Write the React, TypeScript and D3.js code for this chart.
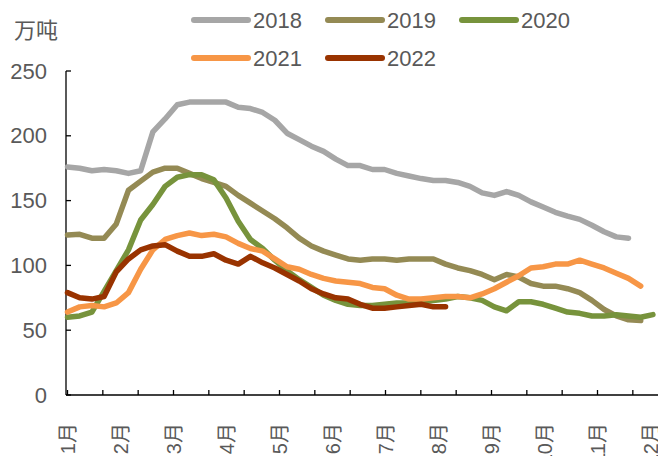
import React from "react";
import * as d3 from "d3";

const monthLabels = ["1月","2月","3月","4月","5月","6月","7月","8月","9月","10月","11月","12月"];
const yTicks = [0, 50, 100, 150, 200, 250];
const years = ["2018", "2019", "2020", "2021", "2022"];
const colors = ["#A6A6A6", "#948A54", "#77933C", "#F79646", "#993300"];

const s2018 = [176,175,173,174,173,171,173,203,213,224,226,226,226,226,222,221,218,212,202,197,192,188,182,177,177,174,174,171,169,167,165.5,165.5,164,161,156,154,157,154,149,145,141,138,135.5,131,126,122,121];
const s2019 = [123.5,124,121,121,132,158,165,172,175,175,171,167,164,161,154,148,142,136,129,121,115,111,108,105,104,105,105,104,105,105,105,101,98,96,93,89,93,91,86,84,84,82,79,73,66,61,58,57.5];
const s2020 = [60,61,64,80,96,112,135,147,161,168,170,170,166,152,134,120,113,104,96,89,83,77,73,70,69,69,70,71,71,72,73,74,76,75,73,68,65,72,72,70,67,64,63,61,61,62,61,60,62];
const s2021 = [64,68,69,68,71,79,97,112,120,123,125,123,124,122,117,113,111,105,99,97,93,90,88,87,86,83,82,77,74,74,75,76,76,75,78,82,87,92,98,99,101,101,104,101,98,94,90,84];
const s2022 = [79,75,74,76,95,105,112,115,116,111,107,107,109,104,101,107,102,98,93,88,82,78,75,74,70,67,67,68,69,70,68,68];

const seriesList = [s2018, s2019, s2020, s2021, s2022];

const W = 658, H = 456;
const x = d3.scaleLinear().domain([1, 12]).range([67.5, 650.5]);
const y = d3.scaleLinear().domain([0, 250]).range([395, 71]);
const weekToMonth = (w: number) => 1 + (w * 7) / 30.42;

const FONT = "Arial, 'Liberation Sans', 'Noto Sans CJK SC', sans-serif";
const TXT = "#595959";

export default function App() {
  const line = d3
    .line<number>()
    .x((_, i) => x(weekToMonth(i)))
    .y((d) => y(d))
    .curve(d3.curveLinear);

  const xTickVals = d3.range(0, 17).map((k) => 1 + (k * 2) / 3);

  const legendPos = [
    { lx: 194, ly: 20 },
    { lx: 328, ly: 20 },
    { lx: 462, ly: 20 },
    { lx: 194, ly: 58 },
    { lx: 328, ly: 58 },
  ];

  return (
    <div style={{ position: "absolute", left: 0, top: 0 }}>
      <svg width={W} height={H} style={{ display: "block", background: "#fff" }}>
        <text x={14} y={30} fontFamily={FONT} fontSize={22} fill={TXT} dominantBaseline="central">万吨</text>

        {yTicks.map((t) => (
          <g key={t}>
            <text x={47} y={y(t)} textAnchor="end" dominantBaseline="central" fontFamily={FONT} fontSize={22} fill={TXT}>{t}</text>
            <line x1={66} x2={71} y1={y(t)} y2={y(t)} stroke="#000" strokeWidth={1.3} />
          </g>
        ))}
        <line x1={66} x2={66} y1={y(250)} y2={y(0)} stroke="#000" strokeWidth={1.3} />
        <line x1={66} x2={W} y1={y(0)} y2={y(0)} stroke="#000" strokeWidth={1.3} />
        {xTickVals.map((v, i) => (
          <line key={i} x1={x(v)} x2={x(v)} y1={y(0)} y2={y(0) - 5} stroke="#000" strokeWidth={1.3} />
        ))}
        {monthLabels.map((m, i) => (
          <text
            key={m}
            transform={`translate(${x(i + 1)},423) rotate(-90)`}
            textAnchor="end"
            dominantBaseline="central"
            fontFamily={FONT}
            fontSize={20}
            fill={TXT}
          >
            {m}
          </text>
        ))}

        {seriesList.map((s, i) => (
          <path key={years[i]} d={line(s) || ""} fill="none" stroke={colors[i]} strokeWidth={5.5} strokeLinejoin="round" strokeLinecap="round" />
        ))}

        {years.map((yr, i) => (
          <g key={yr}>
            <line x1={legendPos[i].lx} x2={legendPos[i].lx + 54} y1={legendPos[i].ly} y2={legendPos[i].ly} stroke={colors[i]} strokeWidth={6} strokeLinecap="round" />
            <text x={legendPos[i].lx + 59} y={legendPos[i].ly} dominantBaseline="central" fontFamily={FONT} fontSize={22} fill={TXT}>{yr}</text>
          </g>
        ))}
      </svg>
    </div>
  );
}
